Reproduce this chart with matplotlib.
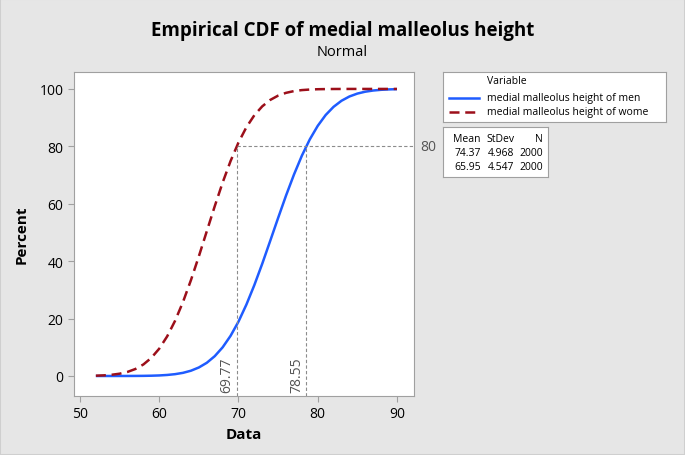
import matplotlib
matplotlib.use('Agg')
import matplotlib.pyplot as plt
from matplotlib.patches import Rectangle

plt.rcParams['font.family'] = ['Open Sans', 'DejaVu Sans']

# percent values, one per unit of Data
x_vals = list(range(52, 91))
men_pct = [0.0, 0.001, 0.002, 0.005, 0.011, 0.024, 0.049, 0.099, 0.19, 0.36,
           0.64, 1.10, 1.84, 2.97, 4.60, 6.90, 9.99, 13.99, 18.95, 24.89,
           31.67, 39.13, 47.05, 55.05, 62.86, 70.16, 76.76, 82.43, 87.14, 90.91,
           93.77, 95.88, 97.37, 98.38, 99.04, 99.45, 99.70, 99.84, 99.92]
women_pct = [0.11, 0.22, 0.43, 0.80, 1.43, 2.45, 4.02, 6.32, 9.53, 13.81,
             19.25, 25.82, 33.40, 41.72, 50.44, 59.13, 67.40, 74.88, 81.35, 86.67,
             90.84, 93.94, 96.16, 97.67, 98.64, 99.25, 99.60, 99.79, 99.90, 99.95,
             99.98, 99.99, 100.0, 100.0, 100.0, 100.0, 100.0, 100.0, 100.0]

series_names = ['medial malleolus height of men', 'medial malleolus height of wome']
means = ['74.37', '65.95']
stdevs = ['4.968', '4.547']
counts = ['2000', '2000']
ref_pct = 80
ref_x = [69.77, 78.55]

MEN_COLOR = '#1f5cff'
WOMEN_COLOR = '#9c0f1a'
REF_COLOR = '#8c8c8c'
BG = '#e6e6e6'
SPINE = '#a0a0a0'

W, H = 685, 456
fig = plt.figure(figsize=(6.85, 4.56), dpi=100, facecolor=BG)


def px_rect(x0, y0, x1, y1):
    return [x0 / W, 1 - y1 / H, (x1 - x0) / W, (y1 - y0) / H]


ax = fig.add_axes(px_rect(74, 73, 414, 397))
ax.set_facecolor('white')
ax.plot(x_vals, men_pct, color=MEN_COLOR, lw=1.8, solid_capstyle='butt')
ax.plot(x_vals, women_pct, color=WOMEN_COLOR, lw=1.8, dashes=(4, 2.3))

ax.set_xlim(49.24, 92.15)
ax.set_ylim(-6.97, 105.9)
ax.set_xticks([50, 60, 70, 80, 90])
ax.set_yticks([0, 20, 40, 60, 80, 100])

# reference lines at 80 percent
ax.plot([ref_x[0], 92.15], [ref_pct, ref_pct], color=REF_COLOR, lw=0.8,
        ls=(0, (3, 2)), clip_on=False)
for xv in ref_x:
    ax.plot([xv, xv], [-6.97, ref_pct], color=REF_COLOR, lw=0.8, ls=(0, (3, 2)))
    ax.text(xv - 0.25, -5.5, f'{xv:.2f}', rotation=90, ha='right', va='bottom',
            fontsize=10, color='#555555')
ax.text(93.0, ref_pct, str(ref_pct), ha='left', va='center', fontsize=10,
        color='#555555', clip_on=False)

for s in ax.spines.values():
    s.set_color(SPINE)
ax.tick_params(colors=SPINE, labelcolor='black', labelsize=10, length=4)
ax.set_xlabel('Data', fontsize=11, fontweight='bold', labelpad=4)
ax.set_ylabel('Percent', fontsize=11, fontweight='bold', labelpad=8)

fig.text(0.5, 1 - 31 / H, 'Empirical CDF of medial malleolus height',
         ha='center', va='center', fontsize=13.5, fontweight='bold')
fig.text(0.5, 1 - 52 / H, 'Normal', ha='center', va='center', fontsize=10.5)

# legend box
lg = fig.add_axes(px_rect(443, 73, 666, 123))
lg.set_xlim(443, 666)
lg.set_ylim(123, 73)
lg.set_xticks([])
lg.set_yticks([])
for s in lg.spines.values():
    s.set_color(SPINE)
lg.text(487, 82, 'Variable', va='center', ha='left', fontsize=7.5)
lg.plot([449, 479], [99, 99], color=MEN_COLOR, lw=1.8)
lg.plot([449, 479], [113, 113], color=WOMEN_COLOR, lw=1.8, dashes=(4, 2.3))
lg.text(487, 98, series_names[0], va='center', ha='left', fontsize=7.5)
lg.text(487, 113, series_names[1], va='center', ha='left', fontsize=7.5)

# stats box
st = fig.add_axes(px_rect(443, 128, 548, 178))
st.set_xlim(443, 548)
st.set_ylim(178, 128)
st.set_xticks([])
st.set_yticks([])
for s in st.spines.values():
    s.set_color(SPINE)
cols = [481, 514, 543]
for c, h in zip(cols, ['Mean', 'StDev', 'N']):
    st.text(c, 139, h, ha='right', va='center', fontsize=7.5)
for r, (m, sd, n) in enumerate(zip(means, stdevs, counts)):
    y = 153 + r * 14
    for c, v in zip(cols, [m, sd, n]):
        st.text(c, y, v, ha='right', va='center', fontsize=7.5)

fig.patches.append(Rectangle((0, 0), 1, 1, transform=fig.transFigure,
                             fill=False, edgecolor='#cfcfcf', lw=1.5))

fig.savefig('out.png', dpi=100, facecolor=BG)
